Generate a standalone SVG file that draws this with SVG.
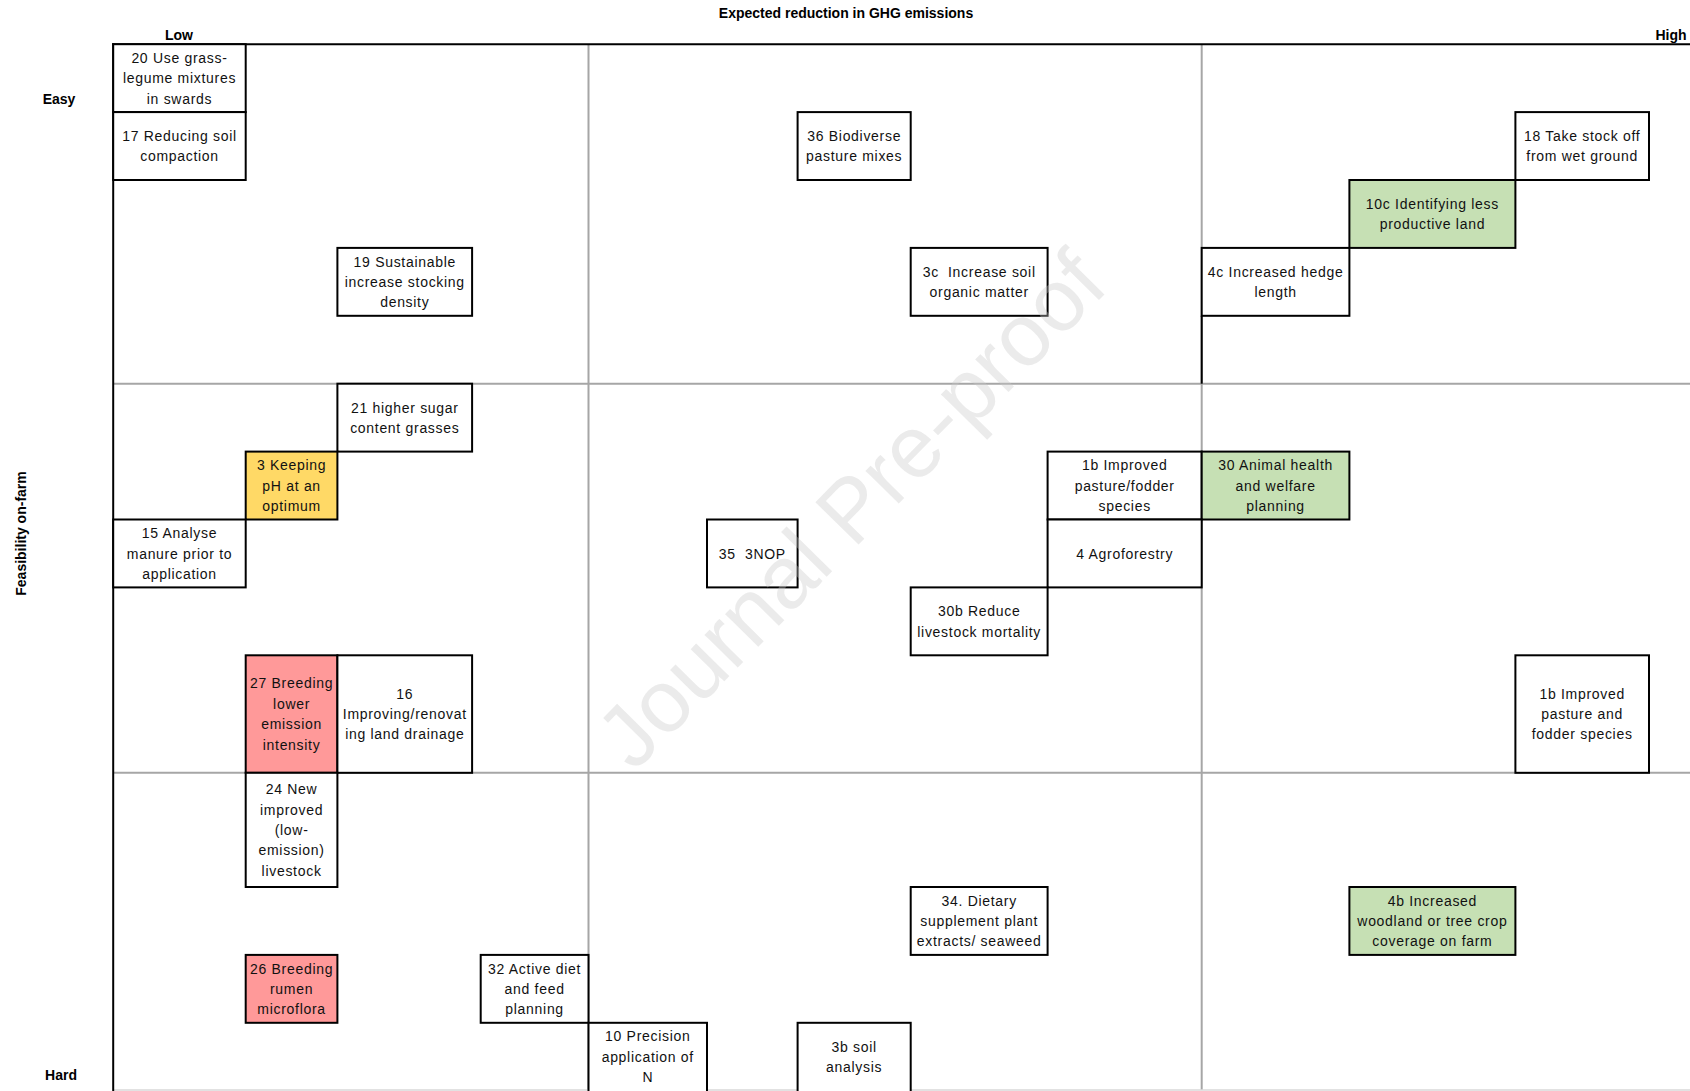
<svg xmlns="http://www.w3.org/2000/svg" width="1690" height="1091" viewBox="0 0 1690 1091">
<style>
.ax{font-family:"Liberation Sans",Arial,sans-serif;font-weight:bold;font-size:14px;fill:#000}
.box{stroke:#000;stroke-width:2;fill:#fff}
.g{fill:#C6E0B4}
.y{fill:#FFD966}
.r{fill:#FF9999}
.t{font-family:"Liberation Sans",Arial,sans-serif;font-size:14px;letter-spacing:0.7px;fill:#111;text-anchor:middle}
.grid{stroke:#A6A6A6;stroke-width:2;fill:none}
.axis{stroke:#000;stroke-width:2;fill:none}
</style>
<rect width="1690" height="1091" fill="#fff"/>
<g id="grid">
<line class="grid" x1="588.5" y1="44" x2="588.5" y2="1090"/>
<line class="grid" x1="1201.7" y1="44" x2="1201.7" y2="1090"/>
<line class="grid" x1="113" y1="383.7" x2="1690" y2="383.7"/>
<line class="grid" x1="113" y1="772.8" x2="1690" y2="772.8"/>
<line x1="113" y1="1090" x2="1690" y2="1090" stroke="#D9D9D9" stroke-width="1.5"/>
<line class="axis" x1="112.2" y1="44.2" x2="1690" y2="44.2"/>
<line class="axis" x1="113.2" y1="43.2" x2="113.2" y2="1091"/>
<line class="axis" x1="1201.7" y1="315.8" x2="1201.7" y2="383.7"/>
</g>
<g id="labels">
<text class="ax" x="846" y="18" text-anchor="middle">Expected reduction in GHG emissions</text>
<text class="ax" x="179" y="40" text-anchor="middle">Low</text>
<text class="ax" x="1671" y="40" text-anchor="middle">High</text>
<text class="ax" x="59" y="104" text-anchor="middle">Easy</text>
<text class="ax" x="61" y="1080" text-anchor="middle">Hard</text>
<text class="ax" x="0" y="0" text-anchor="middle" font-size="14.5" transform="translate(25.5,533.5) rotate(-90)">Feasibility on-farm</text>
</g>
<g id="nodes">
<g id="n20"><rect class="box" x="113.2" y="44.2" width="132.5" height="67.9"/><text class="t"><tspan x="179.5" y="62.8">20 Use grass-</tspan><tspan x="179.5" y="83.2">legume mixtures</tspan><tspan x="179.5" y="103.6">in swards</tspan></text></g>
<g id="n17"><rect class="box" x="113.2" y="112.1" width="132.5" height="67.9"/><text class="t"><tspan x="179.5" y="140.9">17 Reducing soil</tspan><tspan x="179.5" y="161.3">compaction</tspan></text></g>
<g id="n36"><rect class="box" x="797.6" y="112.1" width="113.1" height="67.9"/><text class="t"><tspan x="854.2" y="140.9">36 Biodiverse</tspan><tspan x="854.2" y="161.3">pasture mixes</tspan></text></g>
<g id="n18"><rect class="box" x="1515.4" y="112.1" width="133.6" height="67.9"/><text class="t"><tspan x="1582.2" y="140.9">18 Take stock off</tspan><tspan x="1582.2" y="161.3">from wet ground</tspan></text></g>
<g id="n10c"><rect class="box g" x="1349.4" y="180" width="166" height="67.9"/><text class="t"><tspan x="1432.4" y="208.8">10c Identifying less</tspan><tspan x="1432.4" y="229.2">productive land</tspan></text></g>
<g id="n19"><rect class="box" x="337.4" y="247.9" width="134.7" height="67.9"/><text class="t"><tspan x="404.8" y="266.5">19 Sustainable</tspan><tspan x="404.8" y="286.9">increase stocking</tspan><tspan x="404.8" y="307.3">density</tspan></text></g>
<g id="n3c"><rect class="box" x="910.7" y="247.9" width="136.9" height="67.9"/><text class="t" xml:space="preserve"><tspan x="979.2" y="276.7">3c  Increase soil</tspan><tspan x="979.2" y="297.1">organic matter</tspan></text></g>
<g id="n4c"><rect class="box" x="1201.7" y="247.9" width="147.7" height="67.9"/><text class="t"><tspan x="1275.6" y="276.7">4c Increased hedge</tspan><tspan x="1275.6" y="297.1">length</tspan></text></g>
<g id="n21"><rect class="box" x="337.4" y="383.7" width="134.7" height="67.9"/><text class="t"><tspan x="404.8" y="412.5">21 higher sugar</tspan><tspan x="404.8" y="432.9">content grasses</tspan></text></g>
<g id="n3"><rect class="box y" x="245.7" y="451.6" width="91.7" height="67.9"/><text class="t"><tspan x="291.6" y="470.2">3 Keeping</tspan><tspan x="291.6" y="490.6">pH at an</tspan><tspan x="291.6" y="511">optimum</tspan></text></g>
<g id="n1b"><rect class="box" x="1047.6" y="451.6" width="154.1" height="67.9"/><text class="t"><tspan x="1124.7" y="470.2">1b Improved</tspan><tspan x="1124.7" y="490.6">pasture/fodder</tspan><tspan x="1124.7" y="511">species</tspan></text></g>
<g id="n30"><rect class="box g" x="1201.7" y="451.6" width="147.7" height="67.9"/><text class="t"><tspan x="1275.6" y="470.2">30 Animal health</tspan><tspan x="1275.6" y="490.6">and welfare</tspan><tspan x="1275.6" y="511">planning</tspan></text></g>
<g id="n15"><rect class="box" x="113.2" y="519.5" width="132.5" height="67.9"/><text class="t"><tspan x="179.5" y="538.1">15 Analyse</tspan><tspan x="179.5" y="558.5">manure prior to</tspan><tspan x="179.5" y="578.9">application</tspan></text></g>
<g id="n35"><rect class="box" x="707" y="519.5" width="90.6" height="67.9"/><text class="t" x="752.3" y="558.5" xml:space="preserve">35  3NOP</text></g>
<g id="n4"><rect class="box" x="1047.6" y="519.5" width="154.1" height="67.9"/><text class="t" x="1124.7" y="558.5">4 Agroforestry</text></g>
<g id="n30b"><rect class="box" x="910.7" y="587.4" width="136.9" height="67.9"/><text class="t"><tspan x="979.2" y="616.2">30b Reduce</tspan><tspan x="979.2" y="636.6">livestock mortality</tspan></text></g>
<g id="n27"><rect class="box r" x="245.7" y="655.3" width="91.7" height="117.5"/><text class="t"><tspan x="291.6" y="688.4">27 Breeding</tspan><tspan x="291.6" y="708.8">lower</tspan><tspan x="291.6" y="729.2">emission</tspan><tspan x="291.6" y="749.6">intensity</tspan></text></g>
<g id="n16"><rect class="box" x="337.4" y="655.3" width="134.7" height="117.5"/><text class="t"><tspan x="404.8" y="698.6">16</tspan><tspan x="404.8" y="719">Improving/renovat</tspan><tspan x="404.8" y="739.4">ing land drainage</tspan></text></g>
<g id="n1b2"><rect class="box" x="1515.4" y="655.3" width="133.6" height="117.5"/><text class="t"><tspan x="1582.2" y="698.6">1b Improved</tspan><tspan x="1582.2" y="719">pasture and</tspan><tspan x="1582.2" y="739.4">fodder species</tspan></text></g>
<g id="n24"><rect class="box" x="245.7" y="772.8" width="91.7" height="114.2"/><text class="t"><tspan x="291.6" y="794.1">24 New</tspan><tspan x="291.6" y="814.5">improved</tspan><tspan x="291.6" y="834.9">(low-</tspan><tspan x="291.6" y="855.3">emission)</tspan><tspan x="291.6" y="875.7">livestock</tspan></text></g>
<g id="n34"><rect class="box" x="910.7" y="887" width="136.9" height="67.9"/><text class="t"><tspan x="979.2" y="905.6">34. Dietary</tspan><tspan x="979.2" y="926">supplement plant</tspan><tspan x="979.2" y="946.4">extracts/ seaweed</tspan></text></g>
<g id="n4b"><rect class="box g" x="1349.4" y="887" width="166" height="67.9"/><text class="t"><tspan x="1432.4" y="905.6">4b Increased</tspan><tspan x="1432.4" y="926">woodland or tree crop</tspan><tspan x="1432.4" y="946.4">coverage on farm</tspan></text></g>
<g id="n26"><rect class="box r" x="245.7" y="954.9" width="91.7" height="67.9"/><text class="t"><tspan x="291.6" y="973.5">26 Breeding</tspan><tspan x="291.6" y="993.9">rumen</tspan><tspan x="291.6" y="1014.3">microflora</tspan></text></g>
<g id="n32"><rect class="box" x="480.7" y="954.9" width="107.8" height="67.9"/><text class="t"><tspan x="534.6" y="973.5">32 Active diet</tspan><tspan x="534.6" y="993.9">and feed</tspan><tspan x="534.6" y="1014.3">planning</tspan></text></g>
<g id="n10"><rect class="box" x="588.5" y="1022.8" width="118.5" height="72"/><text class="t"><tspan x="647.8" y="1041.4">10 Precision</tspan><tspan x="647.8" y="1061.8">application of</tspan><tspan x="647.8" y="1082.2">N</tspan></text></g>
<g id="n3b"><rect class="box" x="797.6" y="1022.8" width="113.1" height="72"/><text class="t"><tspan x="854.2" y="1051.6">3b soil</tspan><tspan x="854.2" y="1072">analysis</tspan></text></g>
</g>
<text x="0" y="0" transform="translate(634,773) rotate(-45.5)" font-family="Liberation Sans,Arial,sans-serif" font-size="88" fill="#c8c8c8" fill-opacity="0.36">Journal Pre-proof</text>
</svg>
